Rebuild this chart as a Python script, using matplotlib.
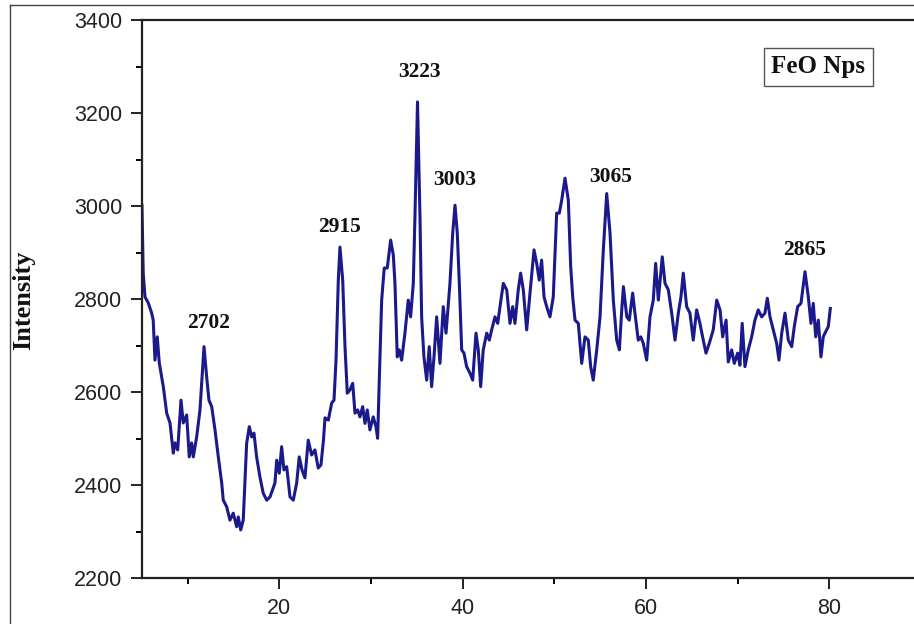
import matplotlib.pyplot as plt
from matplotlib.lines import Line2D

# XRD pattern of FeO nanoparticles
two_theta = [5.02, 5.16, 5.35, 5.71, 6.08, 6.25, 6.44, 6.69, 6.91, 7.35, 7.72, 8.08, 8.44, 8.62, 8.92,
             9.28, 9.53, 9.90, 10.18, 10.44, 10.62, 10.99, 11.35, 11.79, 12.08, 12.33, 12.63, 12.99,
             13.35, 13.72, 13.89, 14.26, 14.62, 14.98, 15.35, 15.53, 15.79, 16.07, 16.44, 16.73, 16.99,
             17.24, 17.53, 17.89, 18.25, 18.63, 18.99, 19.53, 19.72, 20.0, 20.26, 20.51, 20.81, 21.17,
             21.53, 21.90, 22.18, 22.48, 22.80, 23.16, 23.53, 23.89, 24.25, 24.55, 24.82, 24.99, 25.35,
             25.72, 25.97, 26.19, 26.44, 26.62, 26.92, 27.17, 27.42, 27.71, 28.01, 28.26, 28.55, 28.80,
             29.10, 29.35, 29.60, 29.89, 30.25, 30.55, 30.73, 30.91, 31.17, 31.45, 31.78, 32.15, 32.44,
             32.62, 32.87, 33.09, 33.35, 33.71, 34.07, 34.33, 34.62, 34.80, 35.08, 35.35, 35.53, 35.78,
             36.08, 36.36, 36.62, 36.88, 37.17, 37.53, 37.89, 38.19, 38.62, 38.92, 39.17, 39.42, 39.64,
             39.90, 40.15, 40.44, 40.80, 41.10, 41.46, 41.71, 41.97, 42.25, 42.63, 42.91, 43.17, 43.53,
             43.83, 44.08, 44.44, 44.81, 45.17, 45.46, 45.71, 46.07, 46.33, 46.62, 46.99, 47.35, 47.79,
             48.08, 48.36, 48.62, 48.88, 49.17, 49.53, 49.89, 50.26, 50.55, 50.81, 51.17, 51.53, 51.79,
             52.01, 52.26, 52.62, 52.99, 53.35, 53.71, 53.97, 54.25, 54.63, 54.99, 55.35, 55.72, 56.08,
             56.44, 56.81, 57.10, 57.36, 57.54, 57.91, 58.18, 58.55, 58.80, 59.16, 59.43, 59.71, 60.08,
             60.44, 60.80, 61.06, 61.35, 61.78, 62.08, 62.44, 62.81, 63.17, 63.53, 63.82, 64.07, 64.44,
             64.80, 65.16, 65.53, 65.89, 66.25, 66.55, 66.91, 67.34, 67.72, 68.08, 68.37, 68.74, 68.98,
             69.35, 69.64, 70.00, 70.25, 70.50, 70.80, 71.16, 71.53, 71.89, 72.25, 72.62, 72.98, 73.24,
             73.53, 73.89, 74.26, 74.51, 74.81, 75.17, 75.53, 75.90, 76.18, 76.55, 76.91, 77.35, 77.71,
             78.00, 78.25, 78.52, 78.80, 79.09, 79.34, 79.53, 79.89, 80.11]
intensity = [3002, 2856, 2805, 2792, 2770, 2755, 2669, 2719, 2663, 2612, 2555, 2534, 2469, 2491, 2476,
             2583, 2534, 2551, 2461, 2491, 2461, 2504, 2562, 2698, 2633, 2583, 2569, 2519,
             2461, 2405, 2368, 2354, 2325, 2340, 2311, 2332, 2304, 2325, 2490, 2526, 2504,
             2512, 2461, 2418, 2383, 2368, 2375, 2405, 2454, 2426, 2483, 2433, 2440, 2375,
             2368, 2405, 2461, 2433, 2416, 2497, 2465, 2476, 2437, 2444, 2497, 2545, 2540,
             2577, 2583, 2669, 2841, 2912, 2841, 2698, 2598, 2605, 2619, 2555, 2562, 2547,
             2569, 2533, 2562, 2519, 2547, 2526, 2501, 2626, 2798, 2867, 2867, 2927, 2895,
             2834, 2676, 2691, 2669, 2727, 2798, 2762, 2834, 2977, 3224, 2977, 2762, 2676,
             2626, 2698, 2612, 2676, 2762, 2662, 2784, 2727, 2834, 2942, 3002, 2942, 2834,
             2691, 2684, 2655, 2641, 2626, 2727, 2691, 2612, 2691, 2727, 2712, 2734, 2762,
             2748, 2784, 2834, 2820, 2748, 2784, 2748, 2820, 2856, 2820, 2734, 2813, 2906,
             2877, 2841, 2884, 2805, 2784, 2762, 2805, 2985, 2985, 3013, 3060, 3013, 2870,
             2805, 2755, 2748, 2662, 2719, 2712, 2655, 2626, 2691, 2762, 2906, 3027, 2942,
             2798, 2712, 2691, 2777, 2827, 2762, 2755, 2813, 2770, 2712, 2719, 2705, 2669,
             2762, 2798, 2877, 2798, 2891, 2834, 2820, 2770, 2712, 2770, 2805, 2856, 2784,
             2770, 2712, 2777, 2748, 2712, 2684, 2705, 2734, 2798, 2777, 2719, 2755, 2665,
             2691, 2662, 2684, 2658, 2748, 2655, 2691, 2719, 2755, 2777, 2762, 2770, 2802,
             2762, 2734, 2705, 2669, 2727, 2770, 2712, 2698, 2741, 2784, 2791, 2859, 2805,
             2748, 2791, 2719, 2755, 2676, 2719, 2727, 2741, 2780]

# peak labels
peak_labels = ["2702", "2915", "3223", "3003", "3065", "2865"]
label_x = [12.25, 26.62, 35.24, 39.09, 56.18, 77.35]
label_y = [2749, 2956, 3289, 3056, 3063, 2906]

fig = plt.figure(figsize=(9.14, 6.24), dpi=100)
ax = fig.add_axes([0.1551, 0.0732, 0.8449, 0.8947])

ax.plot(two_theta, intensity, color="#1a1a8c", linewidth=2.2)

for t, x, y in zip(peak_labels, label_x, label_y):
    ax.text(x, y, t, ha="center", va="center", fontsize=15.5, fontweight="bold",
            family="Liberation Serif", color="#111111")

ax.text(78.82, 3300, "FeO Nps", ha="center", va="center", fontsize=18, fontweight="bold",
        family="Liberation Serif", color="#111111",
        bbox=dict(boxstyle="square,pad=0.3", fc="white", ec="#555555", lw=1.0))

ax.set_xlim(5, 89.24)
ax.set_ylim(2200, 3400)
ax.set_xticks([20, 40, 60, 80])
ax.set_xticks([10, 30, 50, 70], minor=True)
ax.set_yticks(range(2200, 3401, 200))
ax.set_yticks(range(2300, 3400, 200), minor=True)

ax.spines["right"].set_visible(False)
for s in ["left", "top", "bottom"]:
    ax.spines[s].set_linewidth(1.6)
    ax.spines[s].set_color("#222222")

ax.tick_params(which="major", direction="out", length=8, width=1.4, pad=6,
               labelsize=15.5, colors="#222222")
ax.tick_params(which="minor", direction="out", length=4, width=1.4)
for lab in ax.get_xticklabels() + ax.get_yticklabels():
    lab.set_family("Liberation Sans")

fig.text(24 / 914, 1 - 300 / 624, "Intensity", rotation=90, ha="center", va="center",
         fontsize=19, fontweight="bold", family="Liberation Serif", color="#111111")

# thin outer frame of the original figure
fig.add_artist(Line2D([10 / 914, 10 / 914], [0, 1 - 5 / 624], transform=fig.transFigure,
                      color="#444444", lw=1.0))
fig.add_artist(Line2D([10 / 914, 1], [1 - 5 / 624, 1 - 5 / 624], transform=fig.transFigure,
                      color="#444444", lw=1.0))

fig.savefig("out.png", dpi=100)
